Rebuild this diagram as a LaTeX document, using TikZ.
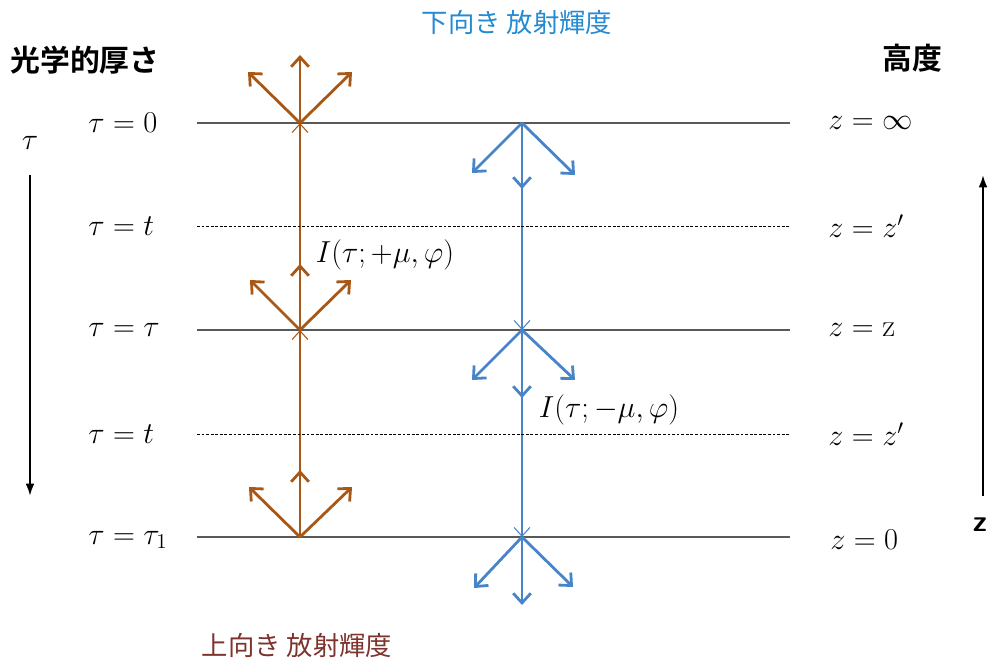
\documentclass[tikz,border=0pt]{standalone}
\usepackage{fontspec}
\newfontfamily\jpfont{Noto Sans CJK JP}[BoldFont={Noto Sans CJK JP Bold}]
\usepackage{tikz}
\usetikzlibrary{arrows.meta}
\usepackage{xcolor}
\definecolor{upcol}{RGB}{168,88,22}
\definecolor{downcol}{RGB}{72,132,200}
\definecolor{downtitle}{RGB}{36,138,210}
\definecolor{uptitle}{RGB}{125,52,46}
\tikzstyle{level} = [draw=black!65, line width=1.1pt]
\tikzstyle{sublevel} = [draw=black, line width=0.5pt, dash pattern=on 1.6pt off 1pt]
\tikzstyle{upray} = [draw=upcol, line width=1.6pt, -{Straight Barb[length=5.5pt,width=10pt]}]
\tikzstyle{downray} = [draw=downcol, line width=1.6pt, -{Straight Barb[length=5.5pt,width=10pt]}]
\tikzstyle{upbeam} = [draw=upcol, line width=0.6pt, -{Straight Barb[length=5pt,width=9pt]}]
\tikzstyle{downbeam} = [draw=downcol, line width=0.6pt, -{Straight Barb[length=5pt,width=9pt]}]
\tikzstyle{axis} = [draw=black, line width=1.2pt, -{Latex[length=7pt,width=5pt]}]
\tikzstyle{eq} = [anchor=west, inner sep=0pt, font=\fontsize{18}{20}\selectfont]

\begin{document}
\begin{tikzpicture}[x=0.02cm, y=-0.02cm]
  \useasboundingbox (0,0) rectangle (989,661);

  % levels
  \coordinate (l0a) at (197,123); \coordinate (l0b) at (790,123);
  \coordinate (l1a) at (197,226); \coordinate (l1b) at (790,226);
  \coordinate (l2a) at (197,330); \coordinate (l2b) at (790,330);
  \coordinate (l3a) at (197,434); \coordinate (l3b) at (790,434);
  \coordinate (l4a) at (197,537); \coordinate (l4b) at (790,537);

  \coordinate (up0) at (300,123);
  \coordinate (up1) at (300,330);
  \coordinate (up2) at (300,537);
  \coordinate (dn0) at (522,123);
  \coordinate (dn1) at (522,330);
  \coordinate (dn2) at (522,537);

  % thin beams
  \draw[upbeam] (up2) -- (up1);
  \draw[upbeam] (up1) -- (up0);
  \draw[downbeam] (dn0) -- (dn1);
  \draw[downbeam] (dn1) -- (dn2);

  \draw[level] (l0a) -- (l0b);
  \draw[sublevel] (l1a) -- (l1b);
  \draw[level] (l2a) -- (l2b);
  \draw[sublevel] (l3a) -- (l3b);
  \draw[level] (l4a) -- (l4b);

  % upward fans
  \draw[upray] (up0) -- ++(0,-68);
  \draw[upray] (up0) -- ++(-52,-51);
  \draw[upray] (up0) -- ++(52,-51);
  \draw[upray] (up1) -- ++(0,-66);
  \draw[upray] (up1) -- ++(-50,-50);
  \draw[upray] (up1) -- ++(51,-50);
  \draw[upray] (up2) -- ++(0,-67);
  \draw[upray] (up2) -- ++(-51,-50);
  \draw[upray] (up2) -- ++(52,-50);

  % downward fans
  \draw[downray] (dn0) -- ++(0,66);
  \draw[downray] (dn0) -- ++(-50,50);
  \draw[downray] (dn0) -- ++(53,52);
  \draw[downray] (dn1) -- ++(0,68);
  \draw[downray] (dn1) -- ++(-50,50);
  \draw[downray] (dn1) -- ++(53,50);
  \draw[downray] (dn2) -- ++(0,68);
  \draw[downray] (dn2) -- ++(-48,51);
  \draw[downray] (dn2) -- ++(51,50);

  % labels
  \node[eq] (tau0) at (88,123) {$\tau = 0$};
  \node[eq] (taut1) at (88,226) {$\tau = t$};
  \node[eq] (tautau) at (88,330) {$\tau = \tau$};
  \node[eq] (taut2) at (88,434) {$\tau = t$};
  \node[eq] (tau1) at (88,540) {$\tau = \tau_1$};

  \node[eq] (zinf) at (828,123) {$z = \infty$};
  \node[eq] (zp1) at (828,226) {$z = z'$};
  \node[eq] (zz) at (828,330) {$z = \mathrm{z}$};
  \node[eq] (zp2) at (828,434) {$z = z'$};
  \node[eq] (zzero) at (830,540) {$z = 0$};

  \node[eq, anchor=center] (iup) at (385,255) {$I(\tau;+\mu,\varphi)$};
  \node[eq, anchor=center] (idown) at (609,410) {$I(\tau;-\mu,\varphi)$};

  \node[font=\jpfont\fontsize{15}{18}\selectfont, text=downtitle] (dntitle) at (517,22) {下向き 放射輝度};
  \node[font=\jpfont\fontsize{15}{18}\selectfont, text=uptitle] (uptitle) at (297,645) {上向き 放射輝度};
  \node[font=\jpfont\bfseries\fontsize{17}{20}\selectfont] (optdepth) at (85,60) {光学的厚さ};
  \node[font=\jpfont\bfseries\fontsize{17}{20}\selectfont] (height) at (912,58) {高度};

  % axes
  \node[font=\fontsize{18}{20}\selectfont] (tauax) at (30,143) {$\tau$};
  \coordinate (ta) at (30,175);
  \coordinate (tb) at (30,496);
  \draw[axis] (ta) -- (tb);
  \coordinate (za) at (983,496);
  \coordinate (zb) at (983,175);
  \draw[axis] (za) -- (zb);
  \node[font=\sffamily\bfseries\fontsize{17}{20}\selectfont] (zax) at (980,525) {z};
\end{tikzpicture}
\end{document}
